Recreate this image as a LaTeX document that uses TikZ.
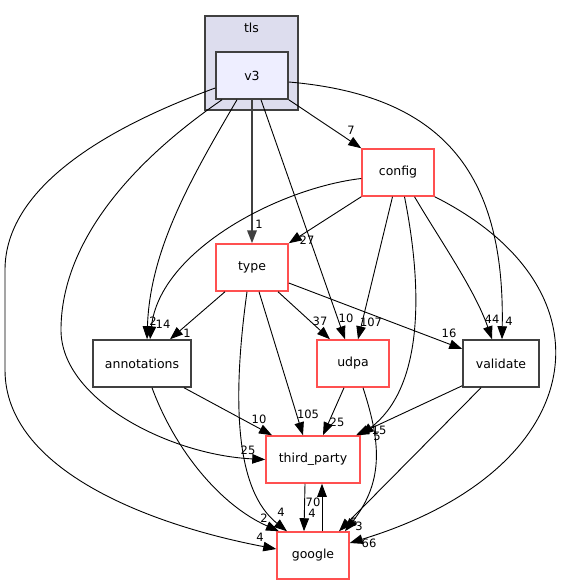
\documentclass[tikz,border=0pt]{standalone}
\usepackage{fontspec}
\setmainfont{DejaVu Sans}
\usetikzlibrary{arrows.meta}
\definecolor{dirred}{RGB}{255,80,80}
\definecolor{dirgrey}{RGB}{64,64,64}
\definecolor{clusterfill}{HTML}{DDDDEE}
\definecolor{curfill}{HTML}{EEEEFF}
\begin{document}
\begin{tikzpicture}[x=1pt, y=-1pt,
  dir/.style={draw, line width=1.5pt, minimum width=72pt, minimum height=47pt, inner sep=0pt, font=\fontsize{12.5}{14}\selectfont},
  reddir/.style={dir, draw=dirred, fill=white},
  greydir/.style={dir, draw=dirgrey, fill=white},
  dep/.style={-{Triangle[length=13pt,width=9.5pt]}, line width=0.9pt},
  lbl/.style={inner sep=0pt, font=\fontsize{11.5}{13}\selectfont}]
\useasboundingbox (0,0) rectangle (564,585);
\draw[dirgrey, fill=clusterfill, line width=1.5pt] (205,16) rectangle (298,110);
\node[font=\fontsize{12.5}{14}\selectfont] (tls) at (251.5,28) {tls};
\node[dir, draw=dirgrey, fill=curfill] (v3) at (252,75.5) {v3};
\node[reddir] (config) at (398,172.5) {config};
\node[reddir] (type) at (252,267.5) {type};
\node[greydir, minimum width=98pt] (annotations) at (142,363.5) {annotations};
\node[reddir] (udpa) at (353,363.5) {udpa};
\node[greydir, minimum width=76pt] (validate) at (501,363.5) {validate};
\node[reddir, minimum width=94pt] (third_party) at (313,459.5) {third\_party};
\node[reddir] (google) at (313,555.5) {google};

\draw[dep] (v3.south east) -- (config.north west);
\draw[dep] ([yshift=-6.5pt]v3.east) .. controls (440,95) and (505,170) .. ([xshift=1pt]validate.north);
\draw[dep, dirgrey, line width=2pt] (v3.south) -- (type.north);
\draw[dep] ([xshift=9pt]v3.south) -- ([xshift=-8pt]udpa.north);
\draw[dep] ([xshift=-15pt]v3.south) .. controls (190,180) and (150,250) .. ([xshift=5pt]annotations.north);
\draw[dep] ([xshift=-30pt]v3.south) .. controls (120,170) and (61,250) .. (61,330) .. controls (61,400) and (170,455) .. (third_party.west);
\draw[dep] ([yshift=-12.5pt]v3.west) .. controls (100,130) and (5,190) .. (5,270) -- (5,370) .. controls (5,470) and (150,525) .. ([yshift=6.5pt]google.west);

\draw[dep] (config.south west) -- (type.north east);
\draw[dep] ([yshift=-6pt]config.west) .. controls (280,188) and (160,250) .. ([xshift=8pt]annotations.north);
\draw[dep] ([xshift=-5.5pt]config.south) -- ([xshift=5pt]udpa.north);
\draw[dep] ([xshift=6.5pt]config.south) .. controls (425,300) and (420,390) .. (third_party.north east);
\draw[dep] ([xshift=16.5pt]config.south) .. controls (440,240) and (475,290) .. ([xshift=-9pt]validate.north);
\draw[dep] (config.south east) .. controls (620,290) and (590,470) .. ([yshift=12.5pt]google.east);

\draw[dep] ([xshift=-27pt]type.south) -- ([xshift=28pt]annotations.north);
\draw[dep] ([xshift=26pt]type.south) -- ([xshift=-23pt]udpa.north);
\draw[dep] ([yshift=-15.5pt]type.east) -- ([yshift=14.5pt]validate.west);
\draw[dep] ([xshift=7pt]type.south) -- ([xshift=-10pt]third_party.north);
\draw[dep] ([xshift=-5pt]type.south) .. controls (232,400) and (235,490) .. ([xshift=-26pt]google.north);

\draw[dep] ([xshift=42pt]annotations.south) -- ([xshift=-41pt]third_party.north);
\draw[dep] ([xshift=10pt]annotations.south) .. controls (175,450) and (220,505) .. ([xshift=-34pt]google.north);
\draw[dep] ([xshift=-9pt]udpa.south) -- ([xshift=10pt]third_party.north);
\draw[dep] ([xshift=10pt]udpa.south) .. controls (380,440) and (385,480) .. ([xshift=32pt]google.north);
\draw[dep] ([yshift=2pt]validate.south west) -- ([xshift=43pt]third_party.north);
\draw[dep] ([xshift=-20pt]validate.south) -- ([xshift=26pt]google.north);
\draw[dep] ([xshift=-8pt]third_party.south) -- ([xshift=-9pt]google.north);
\draw[dep] ([xshift=9pt]google.north) -- ([xshift=9pt]third_party.south);

\node[lbl] (l7) at (351,130) {7};
\node[lbl] (l1a) at (259,224) {1};
\node[lbl] (l10a) at (346,318) {10};
\node[lbl] (l2a) at (153,321) {2};
\node[lbl] (l14) at (163,324) {14};
\node[lbl] (l4a) at (509,321) {4};
\node[lbl] (l25a) at (248,450) {25};
\node[lbl] (l4b) at (260,537) {4};
\node[lbl] (l27) at (307,240) {27};
\node[lbl] (l107) at (371,322) {107};
\node[lbl] (l15) at (379,430) {15};
\node[lbl] (l44) at (492,319) {44};
\node[lbl] (l66) at (369,543) {66};
\node[lbl] (l1b) at (187,333) {1};
\node[lbl] (l37) at (320,321) {37};
\node[lbl] (l16) at (449,333) {16};
\node[lbl] (l105) at (308,414) {105};
\node[lbl] (l4c) at (281,512) {4};
\node[lbl] (l10b) at (259,419) {10};
\node[lbl] (l2b) at (264,518) {2};
\node[lbl] (l25b) at (337,422) {25};
\node[lbl] (l5a) at (354,522) {5};
\node[lbl] (l5b) at (377,436) {5};
\node[lbl] (l3) at (359,526) {3};
\node[lbl] (l4d) at (312,513) {4};
\node[lbl] (l70) at (313,502) {70};
\end{tikzpicture}
\end{document}
